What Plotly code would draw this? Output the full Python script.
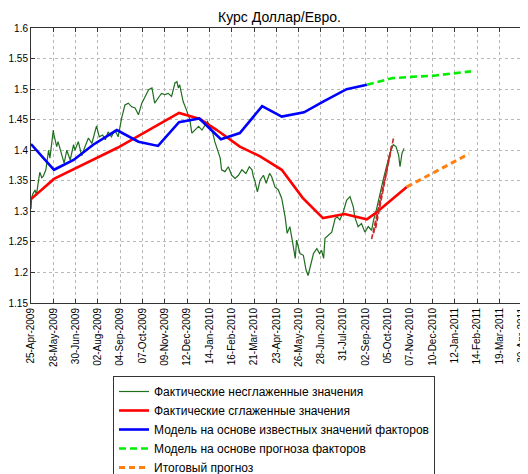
import pandas as pd
import plotly.graph_objects as go

START = "2009-04-25"

tick_labels = ["25-Apr-2009", "28-May-2009", "30-Jun-2009", "02-Aug-2009", "04-Sep-2009",
               "07-Oct-2009", "09-Nov-2009", "12-Dec-2009", "14-Jan-2010", "16-Feb-2010",
               "21-Mar-2010", "23-Apr-2010", "26-May-2010", "28-Jun-2010", "31-Jul-2010",
               "02-Sep-2010", "05-Oct-2010", "07-Nov-2010", "10-Dec-2010", "12-Jan-2011",
               "14-Feb-2011", "19-Mar-2011", "30-Apr-2011"]
tick_step_days = 33
y_ticks = [1.15, 1.2, 1.25, 1.3, 1.35, 1.4, 1.45, 1.5, 1.55, 1.6]

# Actual unsmoothed values (days since START)
raw_days = [0, 1, 3, 6, 8, 11, 13, 16, 18, 22, 26, 28, 31, 33, 34, 38, 40, 45, 49, 53,
            58, 63, 65, 70, 75, 80, 85, 90, 97, 101, 106, 110, 114, 119, 124, 129, 134, 139,
            144, 149, 154, 159, 164, 169, 174, 179, 183, 188, 193, 198, 203, 208, 213, 216,
            218, 220, 225, 230, 235, 238, 243, 248, 253, 257, 261, 264, 269, 272, 277, 280,
            282, 287, 292, 297, 302, 307, 312, 318, 323, 327, 329, 331, 335, 339, 344, 348,
            353, 356, 361, 366, 371, 376, 379, 383, 387, 391, 393, 398, 403, 407, 410, 414,
            418, 423, 427, 430, 433, 435, 440, 445, 450, 453, 457, 462, 467, 472, 477, 479,
            484, 489, 494, 499, 504, 507, 512, 516, 521, 526, 531, 536, 540, 544, 546, 549, 552]
raw_vals = [1.304, 1.323, 1.329, 1.335, 1.327, 1.355, 1.364, 1.355, 1.357, 1.368, 1.400, 1.387,
            1.417, 1.433, 1.425, 1.406, 1.414, 1.395, 1.379, 1.400, 1.384, 1.409, 1.400, 1.414,
            1.391, 1.406, 1.420, 1.411, 1.440, 1.422, 1.425, 1.417, 1.430, 1.422, 1.433, 1.422,
            1.452, 1.474, 1.477, 1.471, 1.469, 1.458, 1.477, 1.488, 1.499, 1.502, 1.477, 1.485,
            1.493, 1.491, 1.493, 1.488, 1.510, 1.512, 1.502, 1.507, 1.480, 1.466, 1.450, 1.428,
            1.433, 1.439, 1.433, 1.439, 1.447, 1.441, 1.428, 1.414, 1.398, 1.387, 1.368, 1.365,
            1.373, 1.359, 1.354, 1.359, 1.368, 1.362, 1.373, 1.368, 1.357, 1.351, 1.332, 1.351,
            1.359, 1.346, 1.362, 1.357, 1.340, 1.335, 1.321, 1.291, 1.264, 1.275, 1.250, 1.223,
            1.253, 1.231, 1.228, 1.204, 1.195, 1.212, 1.231, 1.239, 1.231, 1.236, 1.223, 1.256,
            1.261, 1.266, 1.288, 1.291, 1.286, 1.299, 1.318, 1.324, 1.307, 1.291, 1.275, 1.280,
            1.266, 1.275, 1.269, 1.286, 1.307, 1.329, 1.351, 1.373, 1.395, 1.409, 1.406, 1.392,
            1.373, 1.395, 1.403]

# Actual smoothed values
smooth_days = [0, 34, 128, 219, 250, 275, 309, 339, 371, 402, 432, 464, 497, 511, 556]
smooth_vals = [1.320, 1.353, 1.404, 1.461, 1.451, 1.433, 1.406, 1.390, 1.368, 1.322, 1.289,
               1.2955, 1.287, 1.298, 1.340]

# Model on known factor values
model_days = [0, 34, 63, 92, 127, 159, 188, 219, 249, 281, 309, 342, 371, 404, 433, 467, 497]
model_vals = [1.410, 1.368, 1.384, 1.409, 1.433, 1.414, 1.407, 1.446, 1.452, 1.418, 1.428,
              1.472, 1.455, 1.462, 1.480, 1.500, 1.507]

# Model on forecast factor values
fcst_days = [497, 535, 562, 596, 651]
fcst_vals = [1.507, 1.518, 1.520, 1.522, 1.529]

# Final forecast
final_days = [556, 648]
final_vals = [1.340, 1.394]

# Trend lines (dashed dark red, not in legend)
trend_days = [[504, 537], [507, 534], [510, 532]]
trend_vals = [[1.2545, 1.4226], [1.264, 1.409], [1.2725, 1.397]]

names = ["Фактические несглаженные значения",
         "Фактические сглаженные значения",
         "Модель на основе известных значений факторов",
         "Модель на основе прогноза факторов",
         "Итоговый прогноз"]

base = pd.Timestamp(START)


def to_dates(days):
    return [base + pd.Timedelta(days=d) for d in days]


fig = go.Figure()
fig.add_trace(go.Scatter(x=to_dates(raw_days), y=raw_vals, mode="lines", name=names[0],
                         line=dict(color="#1f6e1f", width=1.2)))
fig.add_trace(go.Scatter(x=to_dates(smooth_days), y=smooth_vals, mode="lines", name=names[1],
                         line=dict(color="#ff0000", width=2.6)))
fig.add_trace(go.Scatter(x=to_dates(model_days), y=model_vals, mode="lines", name=names[2],
                         line=dict(color="#0000ff", width=2.6)))
fig.add_trace(go.Scatter(x=to_dates(fcst_days), y=fcst_vals, mode="lines", name=names[3],
                         line=dict(color="#00ee00", width=2.6, dash="7px,4px")))
fig.add_trace(go.Scatter(x=to_dates(final_days), y=final_vals, mode="lines", name=names[4],
                         line=dict(color="#ff7f10", width=3, dash="6px,4px")))
for td, tv in zip(trend_days, trend_vals):
    fig.add_trace(go.Scatter(x=to_dates(td), y=tv, mode="lines", showlegend=False,
                             line=dict(color="#c8282a", width=1.6, dash="5px,2px")))

tickvals = [base + pd.Timedelta(days=tick_step_days * k) for k in range(len(tick_labels))]
x_end = base + pd.Timedelta(days=735.4)

# The page body has an 8px margin, so the figure is sized to end at the window edge
W, H = 520, 466
ML, MT, MB = 23, 20, 171
plot_w = W - ML
plot_h = H - MT - MB

font_family = "Liberation Sans, Arial, sans-serif"
fig.update_layout(
    width=W, height=H,
    margin=dict(l=ML, r=0, t=MT, b=MB, autoexpand=False),
    paper_bgcolor="white", plot_bgcolor="white",
    font=dict(family=font_family, size=10, color="black"),
    title=dict(text="Курс Доллар/Евро.", x=0.5, xref="paper", xanchor="center",
               y=1 - 9 / H, yref="container", yanchor="middle",
               font=dict(size=14, family=font_family, color="black")),
    showlegend=True,
    legend=dict(x=(105 - ML) / plot_w, y=(MT + plot_h - 368) / plot_h,
                xanchor="left", yanchor="top",
                bgcolor="white", bordercolor="#333333", borderwidth=1,
                font=dict(size=12, family=font_family, color="black"),
                tracegroupgap=0),
)
fig.update_xaxes(type="date", range=[base, x_end], tickvals=tickvals, ticktext=tick_labels,
                 tickangle=-90, showgrid=True, gridcolor="#b8b8b8", griddash="dot", gridwidth=1,
                 showline=True, linecolor="#333333", linewidth=1, mirror="ticks",
                 ticks="inside", ticklen=4, tickcolor="#333333", zeroline=False,
                 tickfont=dict(size=10))
fig.update_yaxes(range=[1.15, 1.6], tickvals=y_ticks, ticktext=[f"{v:g}" for v in y_ticks],
                 showgrid=True, gridcolor="#b8b8b8", griddash="dot", gridwidth=1,
                 showline=True, linecolor="#333333", linewidth=1, mirror=False,
                 ticks="inside", ticklen=4, tickcolor="#333333", zeroline=False,
                 tickfont=dict(size=10))

fig.write_html("out.html")
